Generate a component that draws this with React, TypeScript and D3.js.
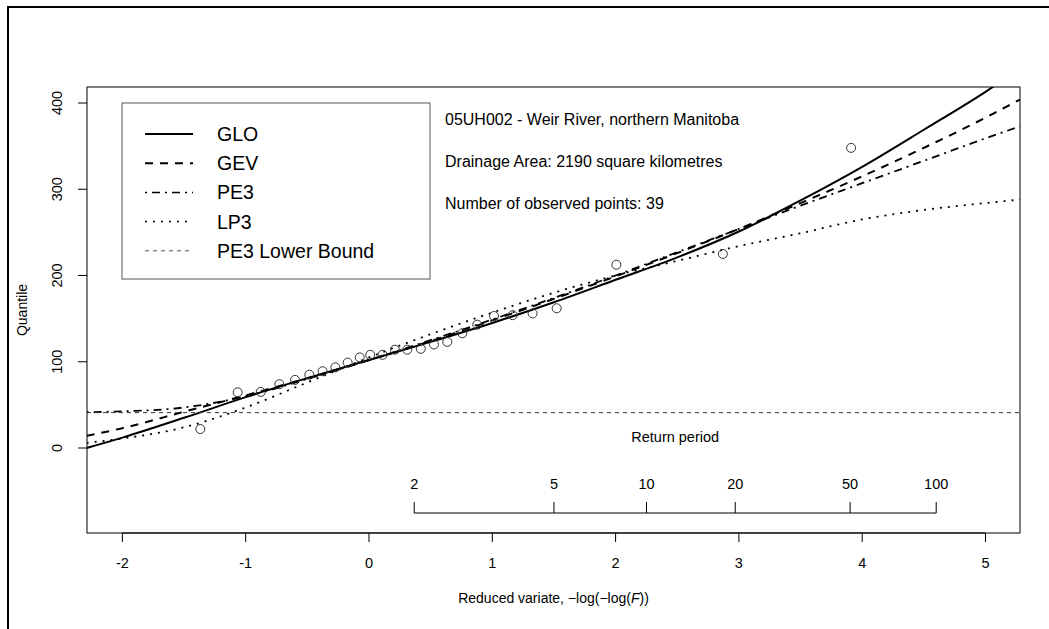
import { useEffect, useRef } from 'react';
import * as d3 from 'd3';

// reduced variate grid used for the fitted curves
const gridX = [-2.29, -2.0, -1.5, -1.0, -0.5, 0, 0.5, 1.0, 1.5, 2.0, 2.5, 3.0, 3.5, 4.0, 4.5, 5.0, 5.28];
const gloValues = [0, 12, 35, 59, 81, 102, 123, 145, 169, 195, 221, 251, 287, 326, 369, 413, 440];
const gevValues = [14, 23, 42, 61, 81, 102, 124, 148, 173, 199, 226, 254, 284, 315, 348, 383, 404];
const pe3Values = [41.5, 42.5, 47, 60, 80, 102, 125, 149, 174, 200, 227, 254, 281, 307, 333, 359, 373];
const lp3Values = [6, 11, 24, 47, 76, 105, 132, 157, 180, 200, 217, 234, 249, 265, 276, 284, 288];
const pe3LowerBound = 41;

// observed points: reduced variate (plotting position) and quantile
const obsX = [-1.368, -1.065, -0.878, -0.727, -0.6, -0.484, -0.376, -0.273, -0.173, -0.075, 0.01, 0.11,
    0.21, 0.31, 0.42, 0.527, 0.635, 0.757, 0.878, 1.014, 1.165, 1.327, 1.522, 2.006, 2.87, 3.91];
const obsY = [22, 64.6, 65, 74, 79, 85, 89, 93.5, 99, 105, 108, 108,
    114, 114, 115, 120, 123, 133, 143, 153, 154, 156, 162, 212.5, 225, 348];

const xTicks = [-2, -1, 0, 1, 2, 3, 4, 5];
const yTicks = [0, 100, 200, 300, 400];
const returnPeriods = [2, 5, 10, 20, 50, 100];

const legendLabels = ['GLO', 'GEV', 'PE3', 'LP3', 'PE3 Lower Bound'];
const infoLines = [
    '05UH002 - Weir River, northern Manitoba',
    'Drainage Area: 2190 square kilometres',
    'Number of observed points: 39',
];

const FONT = '"Liberation Sans", Arial, Helvetica, sans-serif';

export default function App() {
    const ref = useRef<SVGSVGElement | null>(null);
    const width = 1049;
    const height = 629;

    useEffect(() => {
        if (!ref.current) return;
        document.body.style.margin = '0';

        const svg = d3.select(ref.current);
        svg.selectAll('*').remove();

        const left = 87, right = 1020, top = 87, bottom = 533;

        const x = d3.scaleLinear().domain([(left - 369) / 123.3, (right - 369) / 123.3]).range([left, right]);
        const y = d3.scaleLinear().domain([(448 - bottom) / 0.8625, (448 - top) / 0.8625]).range([bottom, top]);

        // outer frame (only the top and left edges are in view)
        svg.append('rect')
            .attr('x', 8).attr('y', 7)
            .attr('width', 1200).attr('height', 800)
            .attr('fill', 'none').attr('stroke', '#000').attr('stroke-width', 2);

        svg.append('clipPath').attr('id', 'plot-clip')
            .append('rect')
            .attr('x', left).attr('y', top)
            .attr('width', right - left).attr('height', bottom - top);

        const g = svg.append('g').attr('font-family', FONT);

        // fitted curves
        const styles = [
            { values: gloValues, dash: null, w: 2 },
            { values: gevValues, dash: '8,7', w: 2 },
            { values: pe3Values, dash: '2,5,8,5', w: 1.8 },
            { values: lp3Values, dash: '2,6', w: 1.8 },
        ];
        const line = d3.line<[number, number]>()
            .x((d) => x(d[0]))
            .y((d) => y(d[1]))
            .curve(d3.curveMonotoneX);

        const curves = g.append('g').attr('clip-path', 'url(#plot-clip)');
        styles.forEach((s) => {
            curves.append('path')
                .datum(gridX.map((v, i) => [v, s.values[i]] as [number, number]))
                .attr('d', line)
                .attr('fill', 'none')
                .attr('stroke', '#000')
                .attr('stroke-width', s.w)
                .attr('stroke-dasharray', s.dash);
        });

        curves.append('line')
            .attr('x1', left).attr('x2', right)
            .attr('y1', y(pe3LowerBound)).attr('y2', y(pe3LowerBound))
            .attr('stroke', '#333').attr('stroke-width', 1)
            .attr('stroke-dasharray', '4,4');

        // observed points
        g.append('g')
            .selectAll('circle')
            .data(obsX.map((v, i) => [v, obsY[i]]))
            .enter()
            .append('circle')
            .attr('cx', (d) => x(d[0]))
            .attr('cy', (d) => y(d[1]))
            .attr('r', 4.5)
            .attr('fill', 'none')
            .attr('stroke', '#333')
            .attr('stroke-width', 1);

        // plot box
        g.append('rect')
            .attr('x', left).attr('y', top)
            .attr('width', right - left).attr('height', bottom - top)
            .attr('fill', 'none').attr('stroke', '#000').attr('stroke-width', 1);

        // x axis
        const xAxis = g.append('g');
        xAxis.append('line')
            .attr('x1', x(xTicks[0])).attr('x2', x(xTicks[xTicks.length - 1]))
            .attr('y1', bottom).attr('y2', bottom).attr('stroke', '#000');
        xTicks.forEach((t) => {
            xAxis.append('line')
                .attr('x1', x(t)).attr('x2', x(t))
                .attr('y1', bottom).attr('y2', bottom + 9)
                .attr('stroke', '#000');
            xAxis.append('text')
                .attr('x', x(t)).attr('y', 563)
                .attr('text-anchor', 'middle').attr('dominant-baseline', 'central')
                .style('font-size', '14.5px')
                .text(`${t}`);
        });

        // y axis
        const yAxis = g.append('g');
        yTicks.forEach((t) => {
            yAxis.append('line')
                .attr('x1', left - 9).attr('x2', left)
                .attr('y1', y(t)).attr('y2', y(t))
                .attr('stroke', '#000');
            yAxis.append('text')
                .attr('transform', `translate(57,${y(t)}) rotate(-90)`)
                .attr('text-anchor', 'middle').attr('dominant-baseline', 'central')
                .style('font-size', '14.5px')
                .text(`${t}`);
        });

        g.append('text')
            .attr('transform', `translate(22,${(top + bottom) / 2}) rotate(-90)`)
            .attr('text-anchor', 'middle').attr('dominant-baseline', 'central')
            .style('font-size', '14px')
            .text('Quantile');

        const xLabel = g.append('text')
            .attr('x', (left + right) / 2).attr('y', 598)
            .attr('text-anchor', 'middle').attr('dominant-baseline', 'central')
            .style('font-size', '14px');
        xLabel.append('tspan').text('Reduced variate,  \u2212log(\u2212log(');
        xLabel.append('tspan').style('font-style', 'italic').text('F');
        xLabel.append('tspan').text('))');

        // return period axis
        const rv = (T: number) => -Math.log(-Math.log(1 - 1 / T));
        const rpY = 513;
        const rp = g.append('g');
        rp.append('line')
            .attr('x1', x(rv(returnPeriods[0]))).attr('x2', x(rv(returnPeriods[returnPeriods.length - 1])))
            .attr('y1', rpY).attr('y2', rpY).attr('stroke', '#000');
        returnPeriods.forEach((T) => {
            rp.append('line')
                .attr('x1', x(rv(T))).attr('x2', x(rv(T)))
                .attr('y1', rpY).attr('y2', rpY - 11)
                .attr('stroke', '#000');
            rp.append('text')
                .attr('x', x(rv(T))).attr('y', 484)
                .attr('text-anchor', 'middle').attr('dominant-baseline', 'central')
                .style('font-size', '14.5px')
                .text(`${T}`);
        });
        rp.append('text')
            .attr('x', (x(rv(2)) + x(rv(100))) / 2).attr('y', 437)
            .attr('text-anchor', 'middle').attr('dominant-baseline', 'central')
            .style('font-size', '14.5px')
            .text('Return period');

        // legend
        const legend = g.append('g');
        legend.append('rect')
            .attr('x', 122).attr('y', 103)
            .attr('width', 308).attr('height', 176)
            .attr('fill', '#fff').attr('stroke', '#555').attr('stroke-width', 1);
        const legendDash = [null, '8,7', '2,5,8,5', '2,6', '4,4'];
        const legendW = [2, 2, 1.5, 1.5, 1];
        legendLabels.forEach((label, i) => {
            const ly = 134 + i * 29.2;
            legend.append('line')
                .attr('x1', 145).attr('x2', 193)
                .attr('y1', ly).attr('y2', ly)
                .attr('stroke', i === 4 ? '#555' : '#000')
                .attr('stroke-width', legendW[i])
                .attr('stroke-dasharray', legendDash[i]);
            legend.append('text')
                .attr('x', 217).attr('y', ly)
                .attr('dominant-baseline', 'central')
                .style('font-size', '19.5px')
                .text(label);
        });

        // station info
        infoLines.forEach((t, i) => {
            g.append('text')
                .attr('x', 445).attr('y', 119 + i * 42)
                .attr('dominant-baseline', 'central')
                .style('font-size', '16px')
                .text(t);
        });
    }, []);

    return (
        <svg
            ref={ref}
            width={width}
            height={height}
            style={{ display: 'block', position: 'absolute', left: 0, top: 0, background: '#fff' }}
        />
    );
}
